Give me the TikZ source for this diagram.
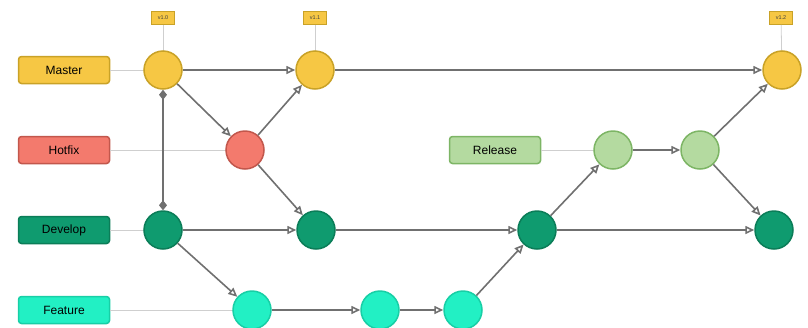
\documentclass[tikz,border=0pt]{standalone}
\usepackage{fontspec}
\setmainfont{Liberation Sans}
\usetikzlibrary{arrows.meta}
\definecolor{mfill}{HTML}{F6C744}
\definecolor{mdraw}{HTML}{C9A227}
\definecolor{hfill}{HTML}{F37A6D}
\definecolor{hdraw}{HTML}{C2574C}
\definecolor{dfill}{HTML}{0F9B6F}
\definecolor{ddraw}{HTML}{0B7D58}
\definecolor{ffill}{HTML}{22F0C4}
\definecolor{fdraw}{HTML}{18CFA6}
\definecolor{rfill}{HTML}{B4DAA0}
\definecolor{rdraw}{HTML}{7DB565}
\definecolor{edge}{HTML}{707070}
\definecolor{guide}{HTML}{CFCFCF}
\begin{document}
\begin{tikzpicture}[x=1pt,y=-1pt,
  commit/.style={circle,minimum size=38pt,inner sep=0pt,line width=1.5pt},
  branch/.style={rounded corners=3pt,minimum width=91pt,minimum height=27pt,line width=1.5pt,font=\fontsize{12}{14}\selectfont},
  tag/.style={fill=mfill,draw=mdraw,line width=0.8pt,minimum width=23pt,minimum height=13pt,inner sep=0pt,font=\fontsize{5.5}{6}\selectfont,text=black!75},
  link/.style={draw=edge,line width=1.6pt,-{Triangle[open,length=9pt,width=8pt,fill=white]}},
  tie/.style={draw=edge,line width=1.6pt,{Diamond[length=10pt,width=8pt]}-{Diamond[length=10pt,width=8pt]}},
  guideline/.style={draw=guide,line width=0.8pt}]
\useasboundingbox (0,0) rectangle (808,327);

% guide lines from labels and tags (drawn first, behind the boxes)
\coordinate (gm) at (163,70);
\coordinate (gh) at (245,150);
\coordinate (gd) at (163,230);
\coordinate (gf) at (252,310);
\coordinate (gr) at (613,150);

% branch labels
\node[branch,fill=mfill,draw=mdraw] (lm) at (64,70) {Master};
\node[branch,fill=hfill,draw=hdraw] (lh) at (64,150) {Hotfix};
\node[branch,fill=dfill,draw=ddraw] (ld) at (64,230) {Develop};
\node[branch,fill=ffill,draw=fdraw] (lf) at (64,310) {Feature};
\node[branch,fill=rfill,draw=rdraw] (lr) at (495,150) {Release};

% version tags
\node[tag] (t1) at (163,18) {v1.0};
\node[tag] (t2) at (315,18) {v1.1};
\node[tag] (t3) at (781,18) {v1.2};

\draw[guideline] (lm) -- (gm);
\draw[guideline] (lh) -- (gh);
\draw[guideline] (ld) -- (gd);
\draw[guideline] (lf) -- (gf);
\draw[guideline] (lr) -- (gr);
\draw[guideline] (t1) -- (163,70);
\draw[guideline] (t2) -- (315,70);
\draw[guideline] (t3) -- (782,70);

% commits
\node[commit,fill=mfill,draw=mdraw] (m1) at (163,70) {};
\node[commit,fill=mfill,draw=mdraw] (m2) at (315,70) {};
\node[commit,fill=mfill,draw=mdraw] (m3) at (782,70) {};
\node[commit,fill=hfill,draw=hdraw] (h1) at (245,150) {};
\node[commit,fill=rfill,draw=rdraw] (r1) at (613,150) {};
\node[commit,fill=rfill,draw=rdraw] (r2) at (700,150) {};
\node[commit,fill=dfill,draw=ddraw] (d1) at (163,230) {};
\node[commit,fill=dfill,draw=ddraw] (d2) at (316,230) {};
\node[commit,fill=dfill,draw=ddraw] (d3) at (537,230) {};
\node[commit,fill=dfill,draw=ddraw] (d4) at (774,230) {};
\node[commit,fill=ffill,draw=fdraw] (f1) at (252,310) {};
\node[commit,fill=ffill,draw=fdraw] (f2) at (380,310) {};
\node[commit,fill=ffill,draw=fdraw] (f3) at (463,310) {};

% history
\draw[tie] (m1) -- (d1);
\draw[link] (m1) -- (m2);
\draw[link] (m1) -- (h1);
\draw[link] (h1) -- (m2);
\draw[link] (h1) -- (d2);
\draw[link] (m2) -- (m3);
\draw[link] (d1) -- (d2);
\draw[link] (d1) -- (f1);
\draw[link] (d2) -- (d3);
\draw[link] (f1) -- (f2);
\draw[link] (f2) -- (f3);
\draw[link] (f3) -- (d3);
\draw[link] (d3) -- (r1);
\draw[link] (r1) -- (r2);
\draw[link] (r2) -- (m3);
\draw[link] (r2) -- (d4);
\draw[link] (d3) -- (d4);
\end{tikzpicture}
\end{document}
